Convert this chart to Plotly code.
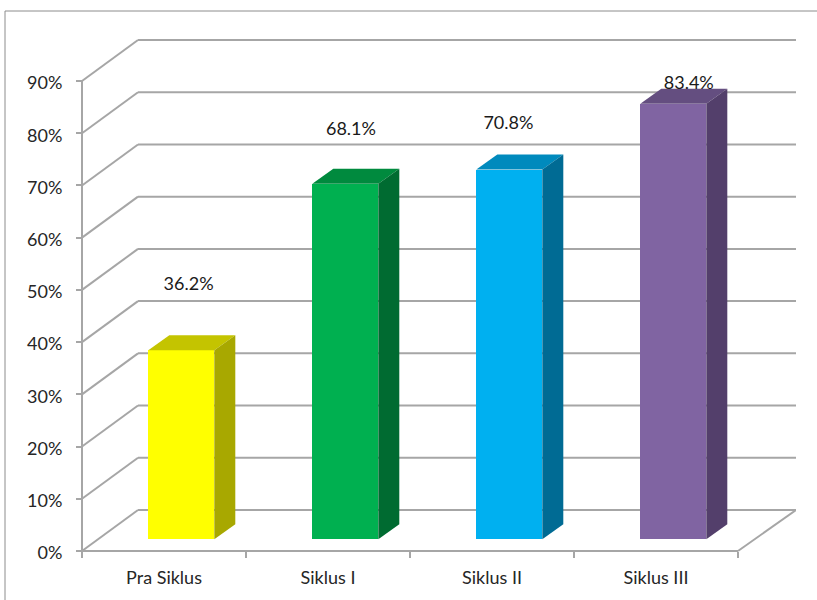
import plotly.graph_objects as go

categories = ["Pra Siklus", "Siklus I", "Siklus II", "Siklus III"]
values = [36.2, 68.1, 70.8, 83.4]
value_labels = ["36.2%", "68.1%", "70.8%", "83.4%"]
label_x = [0.65, 1.64, 2.60, 3.70]
label_y = [50.9, 80.6, 81.6, 89.4]
y_ticks = [0, 10, 20, 30, 40, 50, 60, 70, 80, 90]
y_tick_labels = ["0%", "10%", "20%", "30%", "40%", "50%", "60%", "70%", "80%", "90%"]
front_colors = ["#FFFF00", "#00B050", "#00B0F0", "#8064A2"]
top_colors = ["#C4C400", "#008A3E", "#008ABD", "#644E80"]
side_colors = ["#A8A800", "#006B31", "#006B94", "#533F6B"]

W, H = 817, 600
PX_X = 164.0          # pixels per category
PX_Y = 5.222          # pixels per percent
X0_PX, Y0_PX = 82, 551
L, R, T, B = 60, 796, 14, 570

DX = 56 / PX_X        # wall depth
DY = 41 / PX_Y
BAR_W = 66 / PX_X
BAR_SHIFT = 17.3 / PX_X
BAR_BASE = 2.25
BAR_DX = 21 / PX_X
BAR_DY = 15 / PX_Y
GRID = "#A6A6A6"
X_END = (796 - X0_PX) / PX_X

fig = go.Figure()
shapes = []


def seg(x0, y0, x1, y1, layer="below"):
    return dict(type="line", xref="x", yref="y", x0=x0, y0=y0, x1=x1, y1=y1,
                layer=layer, line=dict(color=GRID, width=2))


for v in y_ticks:
    shapes.append(seg(0, v, DX, v + DY))
    shapes.append(seg(DX, v + DY, X_END, v + DY))
shapes.append(seg(0, 0, 0, 90))
shapes.append(seg(0, 0, 4, 0))
shapes.append(seg(4, 0, X_END, DY))
# outer chart frame
shapes.append(dict(type="line", xref="paper", yref="paper",
                   x0=(5 - L) / (R - L), x1=(817 - L) / (R - L),
                   y0=(B - 11) / (B - T), y1=(B - 11) / (B - T),
                   layer="below", line=dict(color="#8C8C8C", width=1)))
shapes.append(dict(type="line", xref="paper", yref="paper",
                   x0=(5 - L) / (R - L), x1=(5 - L) / (R - L),
                   y0=(B - 11) / (B - T), y1=(B - 600) / (B - T),
                   layer="below", line=dict(color="#8C8C8C", width=1)))

centers = [i + 0.5 + BAR_SHIFT for i in range(len(values))]
fig.add_trace(go.Bar(x=centers, y=values, base=BAR_BASE, width=BAR_W,
                     marker=dict(color=front_colors, line=dict(width=0)),
                     hoverinfo="skip", showlegend=False))

for c, v, tc, sc in zip(centers, values, top_colors, side_colors):
    xl, xr = c - BAR_W / 2, c + BAR_W / 2
    top = v + BAR_BASE
    fig.add_trace(go.Scatter(
        x=[xl, xr, xr + BAR_DX, xl + BAR_DX, xl],
        y=[top, top, top + BAR_DY, top + BAR_DY, top],
        mode="lines", fill="toself", fillcolor=tc, line=dict(width=0),
        hoverinfo="skip", showlegend=False))
    fig.add_trace(go.Scatter(
        x=[xr, xr + BAR_DX, xr + BAR_DX, xr, xr],
        y=[BAR_BASE, BAR_BASE + BAR_DY, top + BAR_DY, top, BAR_BASE],
        mode="lines", fill="toself", fillcolor=sc, line=dict(width=0),
        hoverinfo="skip", showlegend=False))

fig.add_trace(go.Scatter(x=label_x, y=label_y, text=value_labels, mode="text",
                         textposition="middle center",
                         textfont=dict(family="Lato", size=18, color="#1A1A1A"),
                         hoverinfo="skip", showlegend=False))

fig.update_layout(
    width=W, height=H, autosize=False,
    margin=dict(l=L, r=W - R, t=T, b=H - B, pad=0),
    paper_bgcolor="white", plot_bgcolor="rgba(0,0,0,0)",
    shapes=shapes, showlegend=False, bargap=0,
    font=dict(family="Lato", size=18, color="#262626"),
    xaxis=dict(range=[(L - X0_PX) / PX_X, (R - X0_PX) / PX_X],
               anchor="free", position=(B - Y0_PX) / (B - T),
               tickvals=[i + 0.5 for i in range(len(categories))],
               ticktext=categories, ticks="", showgrid=False, zeroline=False,
               showline=False, tickfont=dict(size=18), ticklabelstandoff=14,
               minor=dict(tickvals=[0, 1, 2, 3, 4], ticks="outside", ticklen=6,
                          tickwidth=2, tickcolor=GRID, showgrid=False)),
    yaxis=dict(range=[(Y0_PX - B) / PX_Y, (Y0_PX - T) / PX_Y],
               anchor="free", position=(X0_PX - L) / (R - L),
               tickvals=y_ticks, ticktext=y_tick_labels, ticks="outside", ticklen=6,
               tickwidth=2, tickcolor=GRID, showgrid=False, zeroline=False,
               showline=False, tickfont=dict(size=18), ticklabelstandoff=10,
               ticklabelshift=2),
)

fig.write_html("out.html", config={"displayModeBar": False},
               post_script="document.body.style.margin='0';")
